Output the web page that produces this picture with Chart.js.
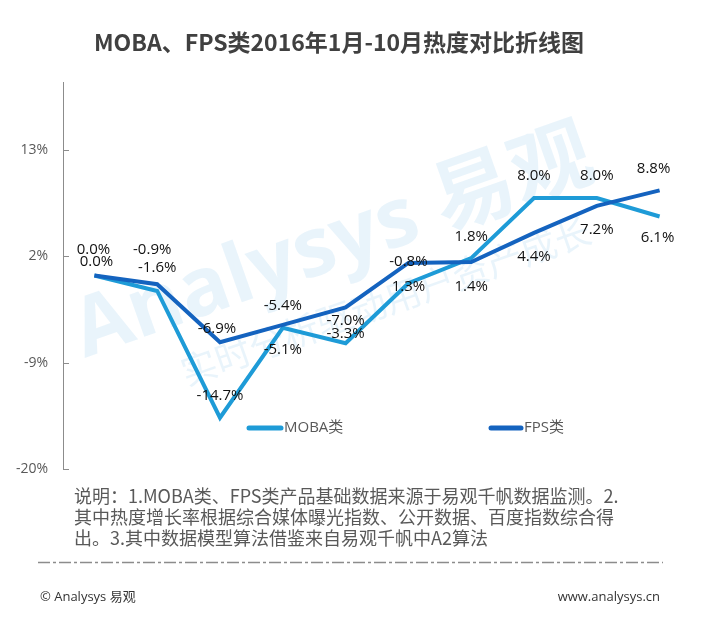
<!DOCTYPE html>
<html>
<head>
<meta charset="utf-8">
<script src="https://cdn.jsdelivr.net/npm/chart.js@4/dist/chart.umd.min.js"></script>
<style>
  html, body { margin: 0; padding: 0; background: #fff; }
  canvas { display: block; }
</style>
</head>
<body>
<canvas id="heatChart" width="718" height="621"></canvas>
<script>
const months = ["1月", "2月", "3月", "4月", "5月", "6月", "7月", "8月", "9月", "10月"];
const mobaValues = [0.0, -1.6, -14.7, -5.4, -7.0, -0.8, 1.8, 8.0, 8.0, 6.1];
const fpsValues = [0.0, -0.9, -6.9, -5.1, -3.3, 1.3, 1.4, 4.4, 7.2, 8.8];
const yTicks = [-20, -9, 2, 13];

const titleText = "MOBA、FPS类2016年1月-10月热度对比折线图";
const noteLines = [
  "说明：1.MOBA类、FPS类产品基础数据来源于易观千帆数据监测。2.",
  "其中热度增长率根据综合媒体曝光指数、公开数据、百度指数综合得",
  "出。3.其中数据模型算法借鉴来自易观千帆中A2算法",
];

// label placement (pixels from the point), one per month
const mobaLabelDy = [-14, -23, -22, -22, -22, -22, -21, -22, -22, 21];
const fpsLabelDy = [-26, -34, -14, 25, 26, 24, 25, 24, 24, -22];
const mobaLabelDx = [2, 0, 0, 0, 0, 0, 0, 0, 0, -2];
const fpsLabelDx = [-1, -5, -3, 0, 0, 0, 0, 0, 0, -6];

const MOBA_COLOR = "#1e9bd7";
const FPS_COLOR = "#1463bf";
const CJK = "'Noto Sans CJK SC', 'Open Sans', sans-serif";

const decorPlugin = {
  id: "decor",
  beforeDatasetsDraw(chart) {
    const ctx = chart.ctx;
    // faint watermark
    ctx.save();
    ctx.translate(340, 262);
    ctx.rotate(-0.34);
    ctx.fillStyle = "rgba(40, 150, 220, 0.10)";
    ctx.textAlign = "center";
    ctx.textBaseline = "middle";
    ctx.font = "bold 82px 'Open Sans', " + CJK;
    ctx.fillText("Analysys 易观", 0, -18);
    ctx.font = "36px " + CJK;
    ctx.fillText("实时分析驱动用户资产成长", 30, 52);
    ctx.restore();
  },
  afterDatasetsDraw(chart) {
    const ctx = chart.ctx;
    ctx.save();
    ctx.font = "15px 'Open Sans', sans-serif";
    ctx.fillStyle = "#111";
    ctx.textAlign = "center";
    ctx.textBaseline = "middle";
    const sets = [
      [0, mobaLabelDx, mobaLabelDy],
      [1, fpsLabelDx, fpsLabelDy],
    ];
    sets.forEach(([i, dx, dy]) => {
      const meta = chart.getDatasetMeta(i);
      const vals = chart.data.datasets[i].data;
      meta.data.forEach((pt, j) => {
        ctx.fillText(vals[j].toFixed(1) + "%", pt.x + dx[j], pt.y + dy[j]);
      });
    });
    ctx.restore();
  },
  afterDraw(chart) {
    const ctx = chart.ctx;
    const y = chart.scales.y;
    ctx.save();
    // inner tick marks
    ctx.strokeStyle = "#8c8c8c";
    ctx.lineWidth = 1;
    yTicks.forEach(v => {
      const py = Math.round(y.getPixelForValue(v)) + 0.5;
      ctx.beginPath();
      ctx.moveTo(y.right, py);
      ctx.lineTo(y.right + 6, py);
      ctx.stroke();
    });

    // legend inside the plot
    const legendPos = [[247, 283], [489, 523]];
    ctx.font = "15px 'Open Sans', " + CJK;
    ctx.textBaseline = "middle";
    ctx.textAlign = "left";
    chart.data.datasets.forEach((ds, i) => {
      const [x0, x1] = legendPos[i];
      ctx.strokeStyle = ds.borderColor;
      ctx.lineWidth = 5;
      ctx.lineCap = "round";
      ctx.beginPath();
      ctx.moveTo(x0 + 2, 428);
      ctx.lineTo(x1 - 2, 428);
      ctx.stroke();
      ctx.fillStyle = "#595959";
      ctx.fillText(ds.label, x1 + 1, 428);
    });

    // title
    ctx.fillStyle = "#404040";
    ctx.textAlign = "center";
    ctx.font = "bold 23px " + CJK;
    ctx.fillText(titleText, 339, 42);

    // note
    ctx.textAlign = "left";
    ctx.fillStyle = "#595959";
    ctx.font = "18px " + CJK;
    noteLines.forEach((line, k) => ctx.fillText(line, 74, 496 + k * 21));

    // separator
    ctx.strokeStyle = "#8c8c8c";
    ctx.lineWidth = 1.5;
    ctx.lineCap = "butt";
    ctx.setLineDash([12, 3, 3, 3]);
    ctx.beginPath();
    ctx.moveTo(38, 562.5);
    ctx.lineTo(663, 562.5);
    ctx.stroke();
    ctx.setLineDash([]);

    // footer
    ctx.fillStyle = "#333";
    ctx.font = "13px 'Open Sans', " + CJK;
    ctx.fillText("© Analysys 易观", 40, 597);
    ctx.textAlign = "right";
    ctx.fillText("www.analysys.cn", 660, 597);
    ctx.restore();
  },
};

new Chart(document.getElementById("heatChart").getContext("2d"), {
  type: "line",
  data: {
    labels: months,
    datasets: [
      {
        label: "MOBA类",
        data: mobaValues,
        borderColor: MOBA_COLOR,
        backgroundColor: MOBA_COLOR,
        borderWidth: 4,
        pointRadius: 0,
        tension: 0,
        order: 2,
      },
      {
        label: "FPS类",
        data: fpsValues,
        borderColor: FPS_COLOR,
        backgroundColor: FPS_COLOR,
        borderWidth: 4,
        pointRadius: 0,
        tension: 0,
        order: 1,
      },
    ],
  },
  options: {
    responsive: false,
    animation: false,
    layout: { padding: { top: 82, right: 27, bottom: 152, left: 0 } },
    plugins: {
      legend: { display: false },
      title: { display: false },
      tooltip: { enabled: false },
    },
    scales: {
      x: {
        display: false,
        offset: true,
      },
      y: {
        min: -20,
        max: 20,
        afterBuildTicks: (scale) => {
          scale.ticks = yTicks.map(v => ({ value: v }));
        },
        afterFit: (scale) => {
          scale.width = 63;
        },
        grid: { display: false, drawTicks: false },
        border: { display: true, color: "#8c8c8c", width: 1 },
        ticks: {
          padding: 15,
          color: "#595959",
          font: { family: "'Open Sans', sans-serif", size: 14 },
          callback: (v) => v + "%",
        },
      },
    },
  },
  plugins: [decorPlugin],
});
</script>
</body>
</html>
